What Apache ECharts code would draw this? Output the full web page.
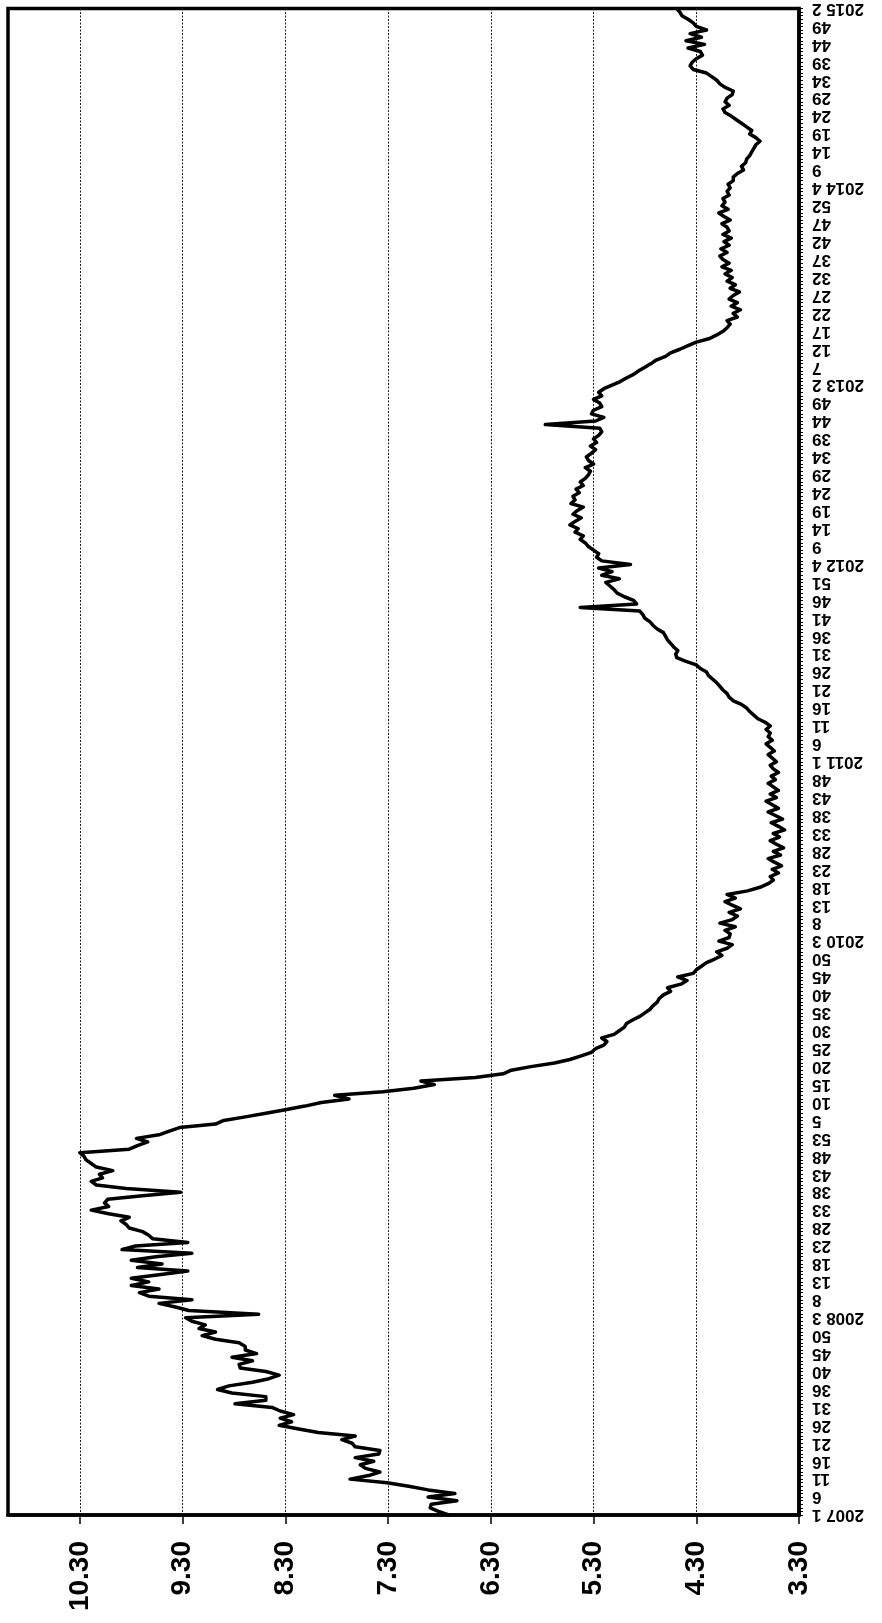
<!DOCTYPE html>
<html>
<head>
<meta charset="utf-8">
<script src="https://cdn.jsdelivr.net/npm/echarts@6/dist/echarts.min.js"></script>
<style>
html,body{margin:0;padding:0;background:#fff;}
#chart{width:882px;height:1623px;}
</style>
</head>
<body>
<div id="chart"></div>
<script>
// ---- data ----
const years = [2007, 2008, 2009, 2010, 2011, 2012, 2013, 2014, 2015];
const weekCounts = [53, 53, 52, 52, 52, 52, 53, 52, 2];
const yearShownOnAxis = [2007, 2008, 2010, 2011, 2012, 2013, 2014, 2015];
const valueTicks = [3.3, 4.3, 5.3, 6.3, 7.3, 8.3, 9.3, 10.3];

const v2007 = [6.71,6.81,6.89,6.88,6.63,6.91,6.65,6.91,7.10,7.31,7.67,7.49,7.38,7.52,7.57,7.44,7.62,7.39,7.38,7.62,7.65,7.75,7.62,7.98,8.17,8.36,8.24,8.35,8.22,8.35,8.43,8.79,8.49,8.49,8.82,8.96,8.85,8.62,8.46,8.36,8.49,8.74,8.75,8.62,8.82,8.58,8.69,8.69,8.75,8.98,9.11,8.98,9.14];
const v2008 = [9.08,9.21,9.27,8.56,9.24,9.37,9.53,9.21,9.63,9.72,9.53,9.80,9.63,9.80,9.53,9.25,9.74,9.50,9.80,9.56,9.21,9.89,9.76,9.25,9.59,9.63,9.69,9.82,9.85,9.90,9.82,10.02,10.19,10.02,10.06,10.03,9.69,9.32,9.85,10.14,10.19,10.08,10.11,9.98,10.14,10.19,10.24,10.26,10.30,9.82,9.74,9.64,9.75];
const v2009 = [9.53,9.43,9.33,8.98,8.90,8.69,8.49,8.30,8.11,7.95,7.68,7.82,7.35,7.05,6.85,6.98,6.45,6.18,6.10,5.91,5.68,5.53,5.42,5.32,5.28,5.20,5.17,5.22,5.10,5.05,5.00,4.98,4.92,4.85,4.80,4.75,4.72,4.68,4.66,4.62,4.55,4.58,4.45,4.39,4.48,4.33,4.30,4.25,4.20,4.12,4.05,4.10];
const v2010 = [4.00,3.95,4.08,3.98,3.97,4.02,3.92,4.07,3.95,3.90,3.98,3.87,3.95,4.02,3.92,4.00,3.80,3.68,3.60,3.55,3.58,3.50,3.56,3.47,3.54,3.60,3.48,3.55,3.45,3.52,3.58,3.49,3.55,3.44,3.50,3.57,3.46,3.53,3.60,3.50,3.56,3.62,3.52,3.58,3.50,3.55,3.60,3.53,3.57,3.50,3.55,3.58];
const v2011 = [3.52,3.56,3.60,3.54,3.58,3.62,3.56,3.60,3.58,3.62,3.58,3.63,3.70,3.74,3.78,3.81,3.86,3.94,3.98,4.00,4.04,4.07,4.10,4.14,4.18,4.20,4.26,4.30,4.40,4.49,4.50,4.48,4.52,4.55,4.58,4.60,4.62,4.68,4.72,4.75,4.80,4.82,4.85,5.43,4.88,4.91,5.00,5.07,5.10,5.14,5.18,5.05];
const v2012 = [5.22,5.12,5.25,4.94,5.22,5.27,5.25,5.30,5.35,5.38,5.43,5.40,5.48,5.45,5.53,5.48,5.42,5.50,5.46,5.40,5.52,5.48,5.50,5.44,5.47,5.40,5.43,5.38,5.35,5.33,5.38,5.30,5.35,5.37,5.32,5.28,5.33,5.27,5.30,5.25,5.22,5.24,5.77,5.28,5.20,5.32,5.30,5.22,5.24,5.30,5.22,5.25];
const v2013 = [5.20,5.12,5.04,4.98,4.91,4.86,4.80,4.74,4.69,4.60,4.55,4.46,4.38,4.30,4.17,4.10,4.04,4.00,3.97,4.00,3.90,3.94,3.87,3.96,3.90,3.98,3.94,3.88,3.97,3.92,4.00,3.95,4.02,3.96,4.05,3.98,4.04,4.07,4.00,4.06,3.98,4.03,3.96,4.04,3.98,4.00,4.05,3.97,4.03,4.08,3.99,4.05,4.02];
const v2014 = [4.04,3.98,4.00,3.97,3.99,3.94,3.94,3.90,3.84,3.86,3.82,3.81,3.78,3.76,3.74,3.72,3.68,3.72,3.78,3.76,3.81,3.86,3.91,3.96,4.02,4.04,3.98,4.02,4.00,3.95,3.94,4.02,4.07,4.10,4.15,4.20,4.33,4.36,4.34,4.30,4.24,4.26,4.38,4.22,4.40,4.25,4.36,4.20,4.30,4.33,4.38,4.44];
const v2015 = [4.46,4.49];

// ---- build ----
const values = [].concat(v2007, v2008, v2009, v2010, v2011, v2012, v2013, v2014, v2015);
const categories = [];
const catYear = [];
const catWeek = [];
years.forEach(function (y, k) {
  for (let w = 1; w <= weekCounts[k]; w++) {
    let wk = w;
    if (y === 2007 && w > 38) wk = w - 1;
    categories.push(y + ' ' + wk);
    catYear.push(y);
    catWeek.push(wk);
  }
});

function catLabel(value, idx) {
  if (idx % 5 !== 0) return '';
  const y = catYear[idx];
  const w = catWeek[idx];
  const firstOfYear = idx === 0 || catYear[idx - 5] !== y;
  if (firstOfYear && yearShownOnAxis.indexOf(y) >= 0) return y + ' ' + w;
  return String(w);
}

const chart = echarts.init(document.getElementById('chart'), null, {renderer: 'canvas'});
chart.setOption({
  backgroundColor: '#ffffff',
  animation: false,
  grid: {
    left: 8, right: 83, top: 7, bottom: 108,
    show: true, borderColor: '#000', borderWidth: 3.5, backgroundColor: 'transparent'
  },
  xAxis: {
    type: 'value',
    inverse: true,
    min: 3.3,
    max: 11.0,
    position: 'bottom',
    axisLine: {show: true, lineStyle: {color: '#000', width: 3.5}},
    axisTick: {show: true, length: 9, lineStyle: {color: '#000', width: 1.5}, customValues: valueTicks},
    axisLabel: {
      customValues: valueTicks,
      rotate: 90,
      margin: 26,
      color: '#000',
      fontFamily: 'Liberation Sans, Arial, sans-serif',
      fontWeight: 'bold',
      fontSize: 28,
      formatter: function (v) { return Number(v).toFixed(2); }
    },
    splitLine: {show: true, lineStyle: {color: '#222', type: [2, 1.5], width: 1}}
  },
  yAxis: {
    type: 'category',
    position: 'right',
    boundaryGap: false,
    data: categories,
    axisLine: {show: true, lineStyle: {color: '#000', width: 3.5}},
    axisTick: {show: true, interval: 0, length: 4, lineStyle: {color: '#000', width: 1}},
    axisLabel: {
      interval: 4,
      rotate: 180,
      margin: 13,
      color: '#000',
      fontFamily: 'Liberation Sans, Arial, sans-serif',
      fontWeight: 'bold',
      fontSize: 17,
      formatter: catLabel
    },
    splitLine: {show: false}
  },
  series: [{
    type: 'line',
    data: values,
    showSymbol: false,
    symbol: 'none',
    lineStyle: {color: '#000', width: 3.5, join: 'round', cap: 'round'},
    itemStyle: {color: '#000'},
    z: 3
  }]
});
</script>
</body>
</html>
